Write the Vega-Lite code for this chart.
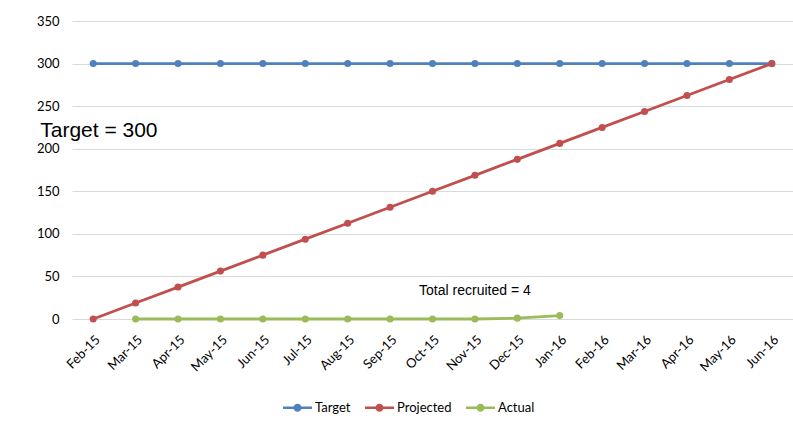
{
  "$schema": "https://vega.github.io/schema/vega-lite/v6.json",
  "width": 721,
  "height": 298,
  "autosize": {"type": "none"},
  "padding": {"left": 72, "top": 21, "right": 0, "bottom": 105},
  "background": "white",
  "config": {
    "view": {"stroke": null},
    "font": "Lato",
    "axis": {"labelFont": "Lato", "labelColor": "#000000", "labelFontSize": 13}
  },
  "datasets": {
    "series": [
      {"month": "Feb-15", "series": "Target", "value": 300},
      {"month": "Mar-15", "series": "Target", "value": 300},
      {"month": "Apr-15", "series": "Target", "value": 300},
      {"month": "May-15", "series": "Target", "value": 300},
      {"month": "Jun-15", "series": "Target", "value": 300},
      {"month": "Jul-15", "series": "Target", "value": 300},
      {"month": "Aug-15", "series": "Target", "value": 300},
      {"month": "Sep-15", "series": "Target", "value": 300},
      {"month": "Oct-15", "series": "Target", "value": 300},
      {"month": "Nov-15", "series": "Target", "value": 300},
      {"month": "Dec-15", "series": "Target", "value": 300},
      {"month": "Jan-16", "series": "Target", "value": 300},
      {"month": "Feb-16", "series": "Target", "value": 300},
      {"month": "Mar-16", "series": "Target", "value": 300},
      {"month": "Apr-16", "series": "Target", "value": 300},
      {"month": "May-16", "series": "Target", "value": 300},
      {"month": "Jun-16", "series": "Target", "value": 300},
      {"month": "Feb-15", "series": "Projected", "value": 0},
      {"month": "Mar-15", "series": "Projected", "value": 18.75},
      {"month": "Apr-15", "series": "Projected", "value": 37.5},
      {"month": "May-15", "series": "Projected", "value": 56.25},
      {"month": "Jun-15", "series": "Projected", "value": 75},
      {"month": "Jul-15", "series": "Projected", "value": 93.75},
      {"month": "Aug-15", "series": "Projected", "value": 112.5},
      {"month": "Sep-15", "series": "Projected", "value": 131.25},
      {"month": "Oct-15", "series": "Projected", "value": 150},
      {"month": "Nov-15", "series": "Projected", "value": 168.75},
      {"month": "Dec-15", "series": "Projected", "value": 187.5},
      {"month": "Jan-16", "series": "Projected", "value": 206.25},
      {"month": "Feb-16", "series": "Projected", "value": 225},
      {"month": "Mar-16", "series": "Projected", "value": 243.75},
      {"month": "Apr-16", "series": "Projected", "value": 262.5},
      {"month": "May-16", "series": "Projected", "value": 281.25},
      {"month": "Jun-16", "series": "Projected", "value": 300},
      {"month": "Mar-15", "series": "Actual", "value": 0},
      {"month": "Apr-15", "series": "Actual", "value": 0},
      {"month": "May-15", "series": "Actual", "value": 0},
      {"month": "Jun-15", "series": "Actual", "value": 0},
      {"month": "Jul-15", "series": "Actual", "value": 0},
      {"month": "Aug-15", "series": "Actual", "value": 0},
      {"month": "Sep-15", "series": "Actual", "value": 0},
      {"month": "Oct-15", "series": "Actual", "value": 0},
      {"month": "Nov-15", "series": "Actual", "value": 0},
      {"month": "Dec-15", "series": "Actual", "value": 1},
      {"month": "Jan-16", "series": "Actual", "value": 4}
    ],
    "notes": [
      {"month": "Feb-15", "value": 221, "label": "Target = 300", "kind": "big"},
      {"month": "Nov-15", "value": 33, "label": "Total recruited = 4", "kind": "small"}
    ]
  },
  "layer": [
    {
      "data": {"name": "series"},
      "mark": {"type": "line", "strokeWidth": 2.8, "point": {"filled": true, "size": 50}},
      "encoding": {
        "x": {
          "field": "month",
          "type": "ordinal",
          "sort": ["Feb-15","Mar-15","Apr-15","May-15","Jun-15","Jul-15","Aug-15","Sep-15","Oct-15","Nov-15","Dec-15","Jan-16","Feb-16","Mar-16","Apr-16","May-16","Jun-16"],
          "scale": {"type": "point", "padding": 0.5, "domain": ["Feb-15","Mar-15","Apr-15","May-15","Jun-15","Jul-15","Aug-15","Sep-15","Oct-15","Nov-15","Dec-15","Jan-16","Feb-16","Mar-16","Apr-16","May-16","Jun-16"]},
          "axis": {"title": null, "labelAngle": -45, "ticks": false, "domain": false, "grid": false, "labelPadding": 14}
        },
        "y": {
          "field": "value",
          "type": "quantitative",
          "scale": {"domain": [0, 350], "nice": false},
          "axis": {"title": null, "values": [0, 50, 100, 150, 200, 250, 300, 350], "ticks": false, "domain": false, "gridColor": "#d9d9d9", "gridWidth": 1, "labelPadding": 13}
        },
        "color": {
          "field": "series",
          "type": "nominal",
          "scale": {"domain": ["Target", "Projected", "Actual"], "range": ["#4F81BD", "#C0504D", "#9BBB59"]},
          "legend": {
            "title": null,
            "orient": "none",
            "direction": "horizontal",
            "legendX": 211,
            "legendY": 372,
            "labelFont": "Lato",
            "labelFontSize": 13,
            "labelColor": "#000000",
            "labelOffset": 3,
            "columnPadding": 14,
            "symbolSize": 841,
            "symbolStrokeWidth": 0,
            "symbolType": "M-1,-0.09 H1 V0.09 H-1 Z M-0.28,0 A0.28,0.28 0 1,1 0.28,0 A0.28,0.28 0 1,1 -0.28,0 Z",
            "encode": {"symbols": {"update": {"fill": {"scale": "color", "field": "value"}, "stroke": {"value": "transparent"}, "opacity": {"value": 1}}}}
          }
        }
      }
    },
    {
      "data": {"name": "notes"},
      "transform": [{"filter": "datum.kind == 'big'"}],
      "mark": {"type": "text", "align": "left", "baseline": "middle", "dx": -53, "fontSize": 21, "font": "Liberation Sans", "color": "#000000"},
      "encoding": {
        "x": {"field": "month", "type": "ordinal", "sort": ["Feb-15","Mar-15","Apr-15","May-15","Jun-15","Jul-15","Aug-15","Sep-15","Oct-15","Nov-15","Dec-15","Jan-16","Feb-16","Mar-16","Apr-16","May-16","Jun-16"]},
        "y": {"field": "value", "type": "quantitative"},
        "text": {"field": "label"}
      }
    },
    {
      "data": {"name": "notes"},
      "transform": [{"filter": "datum.kind == 'small'"}],
      "mark": {"type": "text", "align": "center", "baseline": "middle", "fontSize": 14, "font": "Liberation Sans", "color": "#000000"},
      "encoding": {
        "x": {"field": "month", "type": "ordinal", "sort": ["Feb-15","Mar-15","Apr-15","May-15","Jun-15","Jul-15","Aug-15","Sep-15","Oct-15","Nov-15","Dec-15","Jan-16","Feb-16","Mar-16","Apr-16","May-16","Jun-16"]},
        "y": {"field": "value", "type": "quantitative"},
        "text": {"field": "label"}
      }
    }
  ]
}
